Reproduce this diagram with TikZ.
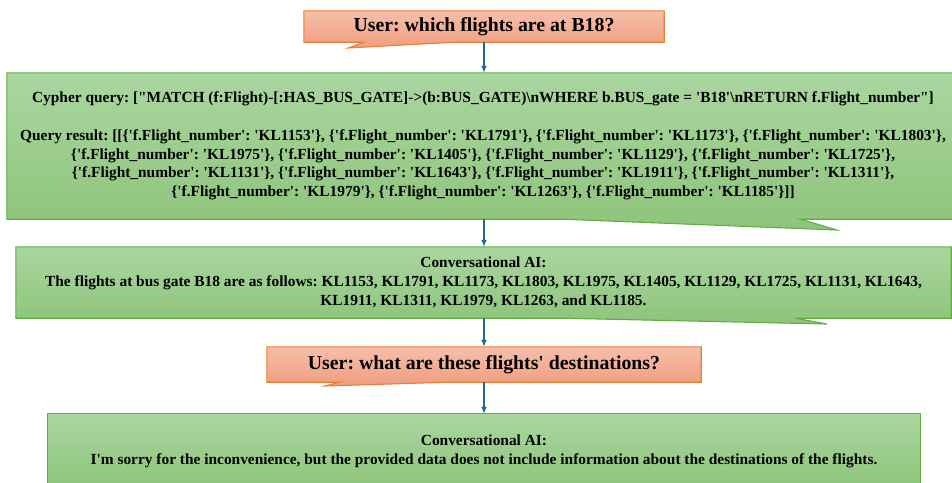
\documentclass[tikz,border=0pt]{standalone}
\usepackage{fontspec}
\newfontfamily\tnr{Liberation Serif}
\usepackage{tikz}
\usetikzlibrary{arrows.meta,positioning,calc,backgrounds}
\usepackage{xcolor}
\definecolor{usertop}{HTML}{F6BFAB}
\definecolor{userbot}{HTML}{F09D7E}
\definecolor{userline}{HTML}{ED7D31}
\definecolor{aitop}{HTML}{AAD6A0}
\definecolor{aibot}{HTML}{8DC47A}
\definecolor{ailine}{HTML}{5FAF3F}
\definecolor{flowblue}{HTML}{23698E}
\frenchspacing

\begin{document}
\begin{tikzpicture}[x=1pt,y=-1pt,
    usertext/.style={font=\tnr\bfseries\fontsize{19.8}{24}\selectfont, inner sep=0pt, align=center},
    aitext/.style={font=\tnr\bfseries\fontsize{15.4}{18.8}\selectfont, inner sep=0pt, align=center},
    userbox/.style={draw=userline, line width=1.1pt, top color=usertop, bottom color=userbot},
    aibox/.style={draw=ailine, line width=1.1pt, top color=aitop, bottom color=aibot},
    flow/.style={draw=flowblue, line width=1.4pt, -{Latex[length=7pt,width=6pt]}}]
    \useasboundingbox (0,0) rectangle (952,482);
    \clip (0,0) rectangle (952,482);

    % First question
    \node[usertext, minimum width=360pt, minimum height=31pt] (ask1) at (484,26.5) {User: which flights are at B18?};
    \coordinate (tip1) at (348,48);

    % Cypher query and its result
    \node[aitext, minimum width=952pt, minimum height=146pt] (cypher) at (483,146) {Cypher query: ["MATCH (f:Flight)-[:HAS\_BUS\_GATE]->(b:BUS\_GATE)\textbackslash nWHERE b.BUS\_gate = 'B18'\textbackslash nRETURN f.Flight\_number"]\\[18.8pt]
        Query result: [[\{'f.Flight\_number': 'KL1153'\}, \{'f.Flight\_number': 'KL1791'\}, \{'f.Flight\_number': 'KL1173'\}, \{'f.Flight\_number': 'KL1803'\},\\
        \{'f.Flight\_number': 'KL1975'\}, \{'f.Flight\_number': 'KL1405'\}, \{'f.Flight\_number': 'KL1129'\}, \{'f.Flight\_number': 'KL1725'\},\\
        \{'f.Flight\_number': 'KL1131'\}, \{'f.Flight\_number': 'KL1643'\}, \{'f.Flight\_number': 'KL1911'\}, \{'f.Flight\_number': 'KL1311'\},\\
        \{'f.Flight\_number': 'KL1979'\}, \{'f.Flight\_number': 'KL1263'\}, \{'f.Flight\_number': 'KL1185'\}]]};
    \coordinate (tip2) at (837,230);

    % First answer
    \node[aitext, minimum width=935pt, minimum height=71pt] (answer1) at (483.5,282.5) {Conversational AI:\\
        The flights at bus gate B18 are as follows: KL1153, KL1791, KL1173, KL1803, KL1975, KL1405, KL1129, KL1725, KL1131, KL1643,\\
        KL1911, KL1311, KL1979, KL1263, and KL1185.};
    \coordinate (tip3) at (827,324);

    % Second question
    \node[usertext, minimum width=434pt, minimum height=35pt] (ask2) at (484,364.5) {User: what are these flights' destinations?};
    \coordinate (tip4) at (325,386);

    % Second answer
    \node[aitext, minimum width=872pt, minimum height=74pt] (answer2) at (484,451) {Conversational AI:\\
        I'm sorry for the inconvenience, but the provided data does not include information about the destinations of the flights.};

    % Speech bubbles behind the text
    \begin{scope}[on background layer]
        \path[userbox] (ask1.north west) -- (ask1.north east) -- (ask1.south east)
            -- ($(ask1.south west)!5/12!(ask1.south east)$) -- (tip1)
            -- ($(ask1.south west)!2/12!(ask1.south east)$) -- (ask1.south west) -- cycle;
        \path[aibox] (cypher.north west) -- (cypher.north east) -- (cypher.south east)
            -- ($(cypher.south west)!10/12!(cypher.south east)$) -- (tip2)
            -- ($(cypher.south west)!7/12!(cypher.south east)$) -- (cypher.south west) -- cycle;
        \path[aibox] (answer1.north west) -- (answer1.north east) -- (answer1.south east)
            -- ($(answer1.south west)!10/12!(answer1.south east)$) -- (tip3)
            -- ($(answer1.south west)!7/12!(answer1.south east)$) -- (answer1.south west) -- cycle;
        \path[userbox] (ask2.north west) -- (ask2.north east) -- (ask2.south east)
            -- ($(ask2.south west)!5/12!(ask2.south east)$) -- (tip4)
            -- ($(ask2.south west)!2/12!(ask2.south east)$) -- (ask2.south west) -- cycle;
        \path[aibox] (answer2.north west) rectangle (answer2.south east);
    \end{scope}

    % Flow of the conversation
    \draw[flow] (ask1.south) -- (ask1.south |- cypher.north);
    \draw[flow] (cypher.south -| ask1) -- (answer1.north -| ask1);
    \draw[flow] (answer1.south -| ask1) -- (ask2.north);
    \draw[flow] (ask2.south) -- (answer2.north -| ask2);
\end{tikzpicture}
\end{document}
